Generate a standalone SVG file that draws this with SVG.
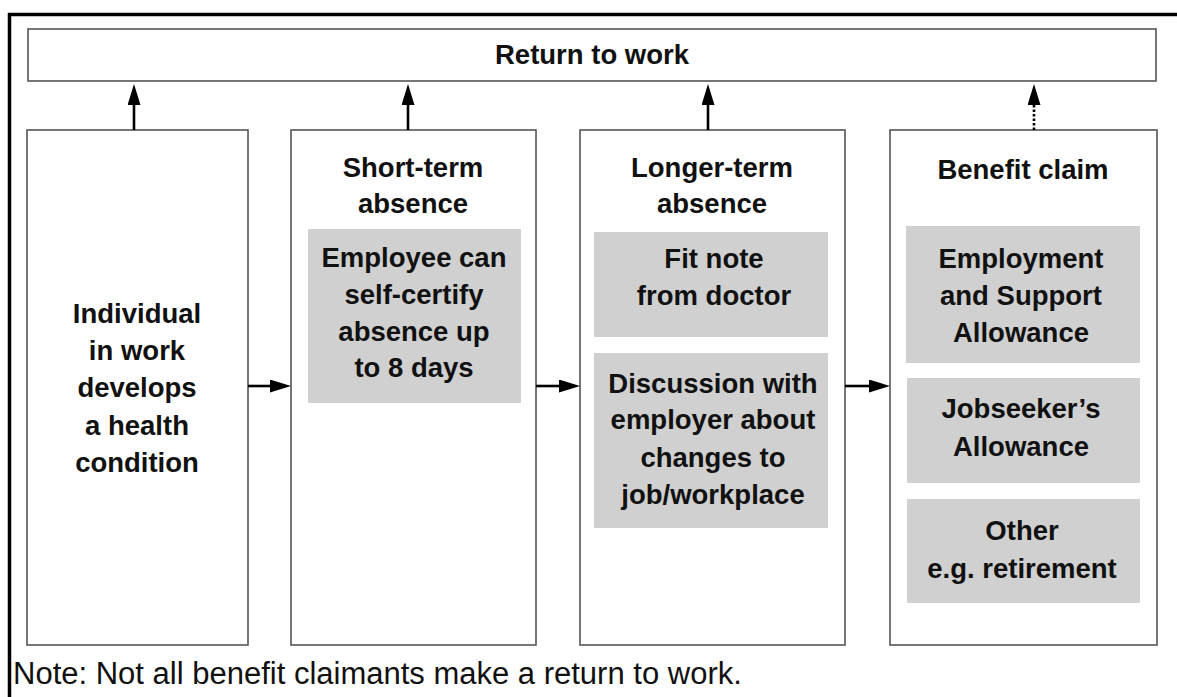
<svg xmlns="http://www.w3.org/2000/svg" width="1177" height="697" viewBox="0 0 1177 697">
<defs>
<style>
.box{fill:#fff;stroke:#555;stroke-width:1.6}
.inner{fill:#d0d0d0;stroke:none}
.t{font-family:"Liberation Sans",Arial,sans-serif;font-weight:bold;font-size:27.5px;fill:#111;text-anchor:middle}
.note{font-family:"Liberation Sans",Arial,sans-serif;font-size:31px;fill:#111}
.ln{stroke:#000;stroke-width:2.6;fill:none}
.dot{stroke-dasharray:2.5 2}
</style>
<marker id="ah" markerUnits="userSpaceOnUse" markerWidth="22" markerHeight="14" refX="0" refY="6.5" orient="auto">
<path d="M0,0 L21,6.5 L0,13 z" fill="#000"/>
</marker>
</defs>
<rect width="1177" height="697" fill="#fff"/>
<g id="frame">
<line x1="9.5" y1="13" x2="9.5" y2="697" stroke="#000" stroke-width="3.5"/>
<line x1="8" y1="14.5" x2="1177" y2="14.5" stroke="#000" stroke-width="3.5"/>
</g>
<g id="return">
<rect class="box" x="28" y="29" width="1128" height="52"/>
<text class="t" x="592" y="64">Return to work</text>
</g>
<g id="individual">
<rect class="box" x="27" y="130" width="221" height="515"/>
<text class="t" x="137" y="323">Individual</text>
<text class="t" x="137" y="360">in work</text>
<text class="t" x="137" y="397">develops</text>
<text class="t" x="137" y="435">a health</text>
<text class="t" x="137" y="472">condition</text>
</g>
<g id="short-term">
<rect class="box" x="291" y="130" width="245" height="515"/>
<text class="t" x="413" y="177">Short-term</text>
<text class="t" x="413" y="213">absence</text>
<rect class="inner" x="308" y="229" width="213" height="174"/>
<text class="t" x="414" y="267">Employee can</text>
<text class="t" x="414" y="304">self-certify</text>
<text class="t" x="414" y="341">absence up</text>
<text class="t" x="414" y="377">to 8 days</text>
</g>
<g id="longer-term">
<rect class="box" x="580" y="130" width="265" height="515"/>
<text class="t" x="712" y="177">Longer-term</text>
<text class="t" x="712" y="213">absence</text>
<rect class="inner" x="594" y="232" width="234" height="105"/>
<text class="t" x="714" y="268">Fit note</text>
<text class="t" x="714" y="305">from doctor</text>
<rect class="inner" x="594" y="353" width="234" height="175"/>
<text class="t" x="713" y="393">Discussion with</text>
<text class="t" x="713" y="429">employer about</text>
<text class="t" x="713" y="467">changes to</text>
<text class="t" x="713" y="504">job/workplace</text>
</g>
<g id="benefit">
<rect class="box" x="890" y="130" width="267" height="515"/>
<text class="t" x="1023" y="179">Benefit claim</text>
<rect class="inner" x="906" y="226" width="234" height="137"/>
<text class="t" x="1021" y="268">Employment</text>
<text class="t" x="1021" y="305">and Support</text>
<text class="t" x="1021" y="342">Allowance</text>
<rect class="inner" x="907" y="378" width="233" height="105"/>
<text class="t" x="1021" y="418">Jobseeker’s</text>
<text class="t" x="1021" y="456">Allowance</text>
<rect class="inner" x="907" y="499" width="233" height="104"/>
<text class="t" x="1022" y="540">Other</text>
<text class="t" x="1022" y="578">e.g. retirement</text>
</g>
<g id="connectors">
<line class="ln" x1="134" y1="130" x2="134" y2="105" marker-end="url(#ah)"/>
<line class="ln" x1="408" y1="130" x2="408" y2="105" marker-end="url(#ah)"/>
<line class="ln" x1="708" y1="130" x2="708" y2="105" marker-end="url(#ah)"/>
<line class="ln dot" x1="1034" y1="130" x2="1034" y2="105" marker-end="url(#ah)"/>
<line class="ln" x1="248" y1="386" x2="270" y2="386" marker-end="url(#ah)"/>
<line class="ln" x1="536" y1="386" x2="559" y2="386" marker-end="url(#ah)"/>
<line class="ln" x1="845" y1="386" x2="869" y2="386" marker-end="url(#ah)"/>
</g>
<text class="note" x="13" y="684">Note: Not all benefit claimants make a return to work.</text>
</svg>
